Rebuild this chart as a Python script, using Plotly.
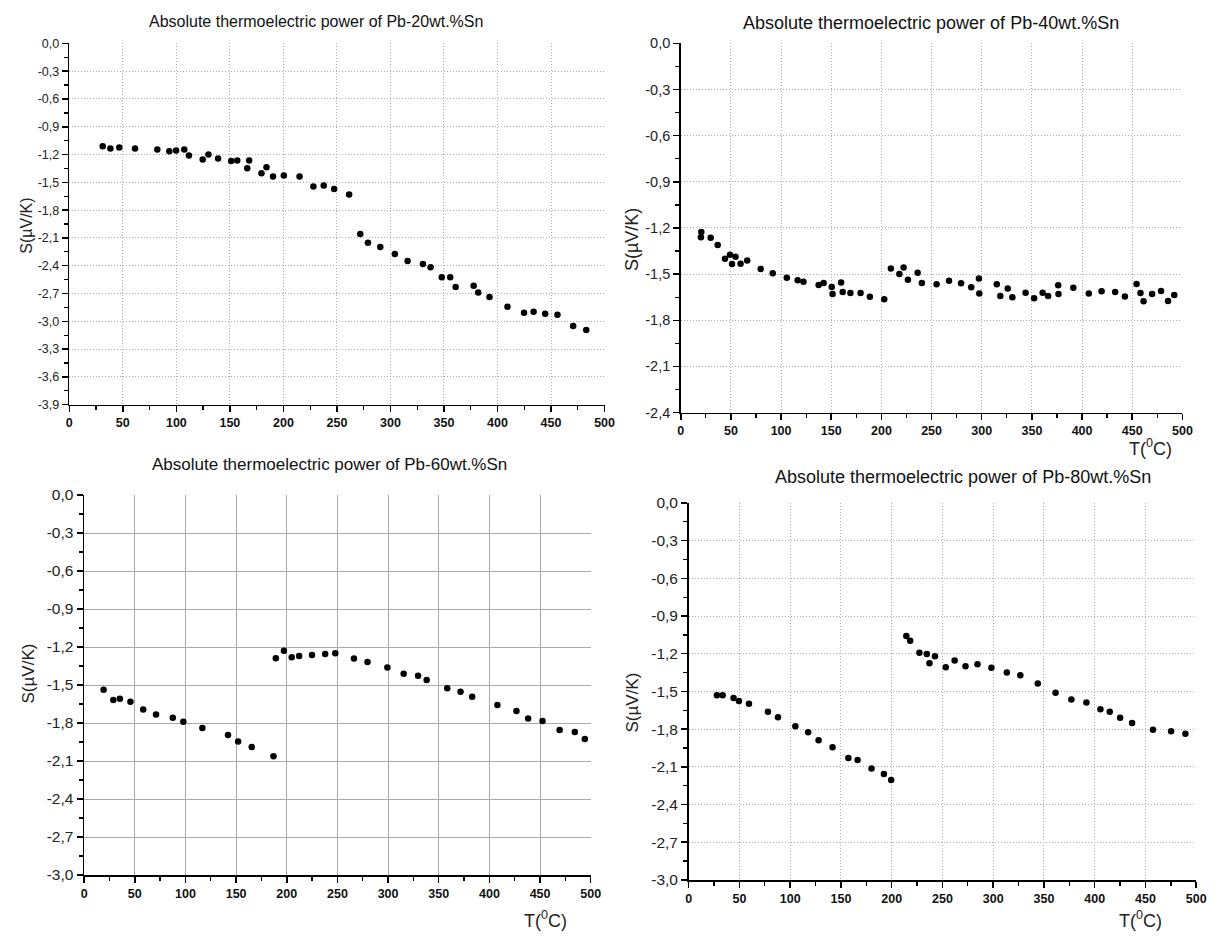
import plotly.graph_objects as go

W, H = 1229, 939

# ---------------- data ----------------
TITLES = [
    "Absolute thermoelectric power of Pb-20wt.%Sn",
    "Absolute thermoelectric power of Pb-40wt.%Sn",
    "Absolute thermoelectric power of Pb-60wt.%Sn",
    "Absolute thermoelectric power of Pb-80wt.%Sn",
]

T_20 = [31.2, 38.4, 46.7, 61.4, 82.2, 93.4, 99.8, 107.4, 111.7, 124.6, 130.0, 139.0, 151.2,
        156.9, 166.2, 168.0, 179.5, 184.2, 190.3, 200.4, 215.1, 228.0, 237.7, 247.4, 261.4,
        271.8, 279.0, 290.5, 304.1, 316.0, 330.3, 337.5, 347.9, 355.8, 360.9, 377.7, 382.0,
        392.5, 409.3, 424.8, 433.7, 444.5, 456.0, 470.7, 482.9]
S_20 = [-1.110, -1.135, -1.125, -1.135, -1.146, -1.164, -1.157, -1.146, -1.210, -1.253, -1.200,
        -1.242, -1.270, -1.263, -1.349, -1.263, -1.402, -1.338, -1.438, -1.427, -1.438, -1.544,
        -1.534, -1.573, -1.630, -2.057, -2.153, -2.199, -2.274, -2.349, -2.381, -2.416, -2.523,
        -2.523, -2.630, -2.616, -2.690, -2.737, -2.843, -2.907, -2.897, -2.918, -2.929, -3.050,
        -3.093]

T_40 = [20.5, 20.1, 29.8, 36.8, 44.1, 49.1, 51.1, 54.6, 59.6, 66.2, 79.7, 91.7, 105.7, 116.5,
        122.3, 137.4, 142.4, 150.5, 151.3, 159.8, 161.4, 169.1, 179.2, 188.5, 202.8, 209.4,
        217.9, 222.1, 226.4, 236.1, 240.3, 255.0, 267.4, 279.4, 289.5, 297.2, 297.6, 315.0,
        318.5, 325.9, 330.5, 343.7, 352.2, 360.7, 366.1, 376.2, 376.5, 391.3, 406.7, 419.5,
        433.0, 442.7, 454.3, 458.2, 461.3, 469.8, 478.7, 485.7, 491.9]
S_40 = [-1.226, -1.260, -1.264, -1.311, -1.400, -1.374, -1.434, -1.387, -1.432, -1.411, -1.466,
        -1.494, -1.523, -1.540, -1.549, -1.570, -1.557, -1.583, -1.630, -1.555, -1.617, -1.623,
        -1.623, -1.647, -1.664, -1.464, -1.500, -1.457, -1.536, -1.491, -1.557, -1.566, -1.543,
        -1.560, -1.585, -1.528, -1.626, -1.566, -1.643, -1.594, -1.651, -1.621, -1.657, -1.621,
        -1.643, -1.572, -1.630, -1.589, -1.626, -1.611, -1.617, -1.645, -1.564, -1.623, -1.677,
        -1.630, -1.609, -1.674, -1.636]

T_60 = [19.2, 28.8, 35.3, 45.7, 58.3, 71.0, 87.5, 97.9, 116.7, 142.0, 152.0, 165.4, 186.9,
        189.2, 197.2, 204.9, 212.2, 224.9, 237.9, 247.9, 266.3, 279.7, 299.3, 315.4, 329.6,
        338.1, 358.4, 371.5, 383.0, 407.9, 426.7, 438.2, 452.4, 469.3, 484.3, 494.2]
S_60 = [-1.538, -1.618, -1.608, -1.631, -1.694, -1.732, -1.758, -1.790, -1.839, -1.894, -1.945,
        -1.990, -2.062, -1.288, -1.229, -1.281, -1.270, -1.262, -1.255, -1.249, -1.291, -1.319,
        -1.361, -1.410, -1.426, -1.460, -1.525, -1.553, -1.592, -1.657, -1.704, -1.764, -1.784,
        -1.855, -1.870, -1.927]

T_80 = [27.8, 33.5, 44.2, 49.5, 59.4, 78.1, 88.0, 105.1, 117.7, 128.0, 141.7, 157.3, 166.4,
        180.1, 192.3, 199.5, 214.4, 218.2, 227.3, 234.6, 237.2, 242.6, 253.2, 262.0, 272.7,
        284.5, 298.2, 313.4, 326.7, 343.9, 361.4, 377.0, 391.8, 405.6, 414.8, 425.0, 436.8,
        457.4, 475.2, 489.3]
S_80 = [-1.531, -1.531, -1.552, -1.576, -1.599, -1.662, -1.706, -1.777, -1.824, -1.889, -1.944,
        -2.030, -2.045, -2.113, -2.158, -2.204, -1.059, -1.096, -1.192, -1.203, -1.276, -1.221,
        -1.307, -1.255, -1.299, -1.284, -1.312, -1.349, -1.372, -1.437, -1.511, -1.565, -1.589,
        -1.641, -1.662, -1.709, -1.751, -1.805, -1.816, -1.837]

X_TICKS = [0, 50, 100, 150, 200, 250, 300, 350, 400, 450, 500]
Y_TICKS_39 = [0.0, -0.3, -0.6, -0.9, -1.2, -1.5, -1.8, -2.1, -2.4, -2.7, -3.0, -3.3, -3.6, -3.9]
Y_TICKS_24 = [0.0, -0.3, -0.6, -0.9, -1.2, -1.5, -1.8, -2.1, -2.4]
Y_TICKS_30 = [0.0, -0.3, -0.6, -0.9, -1.2, -1.5, -1.8, -2.1, -2.4, -2.7, -3.0]
Y_TITLE = "S(\u00b5V/K)"
X_TITLE = "T(<sup>0</sup>C)"

# ---------------- layout helpers ----------------
FONT = "Liberation Sans, Arial, sans-serif"


def xdom(a, b):
    return [a / W, b / W]


def ydom(top, bottom):
    return [1 - bottom / H, 1 - top / H]


def fmt(v):
    return ("%.1f" % v).replace(".", ",")


panels = [
    # (T, S, yticks, ymin, x px span, y px span, grid style, ytick font size)
    (T_20, S_20, Y_TICKS_39, -3.9, (67, 608), (35, 403), ("#ababab", "1px,2px"), 12.5),
    (T_40, S_40, Y_TICKS_24, -2.4, (685, 1192), (35, 411), ("#ababab", "1px,2px"), 14.5),
    (T_60, S_60, Y_TICKS_30, -3.0, (82, 594), (495, 882), ("#a9a9a9", "solid"), 15.5),
    (T_80, S_80, Y_TICKS_30, -3.0, (693, 1206), (503, 887), ("#ababab", "1px,2px"), 15.5),
]

fig = go.Figure()
layout = dict(
    width=W, height=H, autosize=False,
    margin=dict(l=0, r=0, t=0, b=0),
    paper_bgcolor="white", plot_bgcolor="white",
    showlegend=False,
    font=dict(family=FONT, color="#111"),
)

for i, (T, S, yt, ymin, xpx, ypx, (gc, gd), yfs) in enumerate(panels):
    n = "" if i == 0 else str(i + 1)
    fig.add_trace(go.Scatter(
        x=T, y=S, mode="markers",
        marker=dict(color="black", size=6.5),
        xaxis="x" + n, yaxis="y" + n,
    ))
    layout["xaxis" + n] = dict(
        domain=xdom(*xpx), range=[0, 500], anchor="y" + n,
        tickmode="array", tickvals=X_TICKS, ticktext=[str(v) for v in X_TICKS],
        ticks="outside", ticklen=6, tickwidth=1.5, tickcolor="black",
        minor=dict(dtick=25, tick0=0, ticks="outside", ticklen=4, tickwidth=1.3,
                   tickcolor="black", showgrid=False),
        showline=True, linecolor="black", linewidth=1.6,
        showgrid=True, gridcolor=gc, griddash=gd, gridwidth=1,
        zeroline=False, fixedrange=True,
        tickfont=dict(family=FONT, size=12.5, color="#111", weight="bold"),
    )
    layout["yaxis" + n] = dict(
        domain=ydom(*ypx), range=[ymin, 0], anchor="x" + n,
        tickmode="array", tickvals=yt, ticktext=[fmt(v) for v in yt],
        ticks="outside", ticklen=6, tickwidth=1.5, tickcolor="black",
        minor=dict(dtick=0.15, tick0=0, ticks="outside", ticklen=4, tickwidth=1.3,
                   tickcolor="black", showgrid=False),
        showline=True, linecolor="black", linewidth=1.6,
        showgrid=True, gridcolor=gc, griddash=gd, gridwidth=1,
        zeroline=False, fixedrange=True,
        tickfont=dict(family=FONT, size=yfs, color="#222"),
    )

fig.update_layout(**layout)

# titles and axis labels as annotations (pixel positions)
title_pos = [(316, 13, 16), (938, 14, 18), (330, 464, 17), (970, 477, 18)]
ytitle_pos = [(24, 221, 16), (635, 235, 18), (26, 677, 17), (636, 706, 17)]
xtitle_pos = [None, (1160, 447), (548, 927), (1150, 927)]

ann = []
for (x, y, fs), txt in zip(title_pos, TITLES):
    ann.append(dict(x=x / W, y=1 - y / H, xref="paper", yref="paper", text=txt,
                    showarrow=False, xanchor="center", yanchor="middle",
                    font=dict(family=FONT, size=fs, color="#111")))
for (x, y, fs) in ytitle_pos:
    ann.append(dict(x=x / W, y=1 - y / H, xref="paper", yref="paper", text=Y_TITLE,
                    showarrow=False, xanchor="center", yanchor="middle", textangle=-90,
                    font=dict(family=FONT, size=fs, color="#222")))
for p in xtitle_pos:
    if p is None:
        continue
    x, y = p
    ann.append(dict(x=x / W, y=1 - y / H, xref="paper", yref="paper", text=X_TITLE,
                    showarrow=False, xanchor="center", yanchor="middle",
                    font=dict(family=FONT, size=18, color="#222")))
fig.update_layout(annotations=ann)

fig.write_html(
    "out.html",
    config={"displayModeBar": False, "staticPlot": True},
    post_script="document.body.style.margin='0';document.body.style.overflow='hidden';",
)
